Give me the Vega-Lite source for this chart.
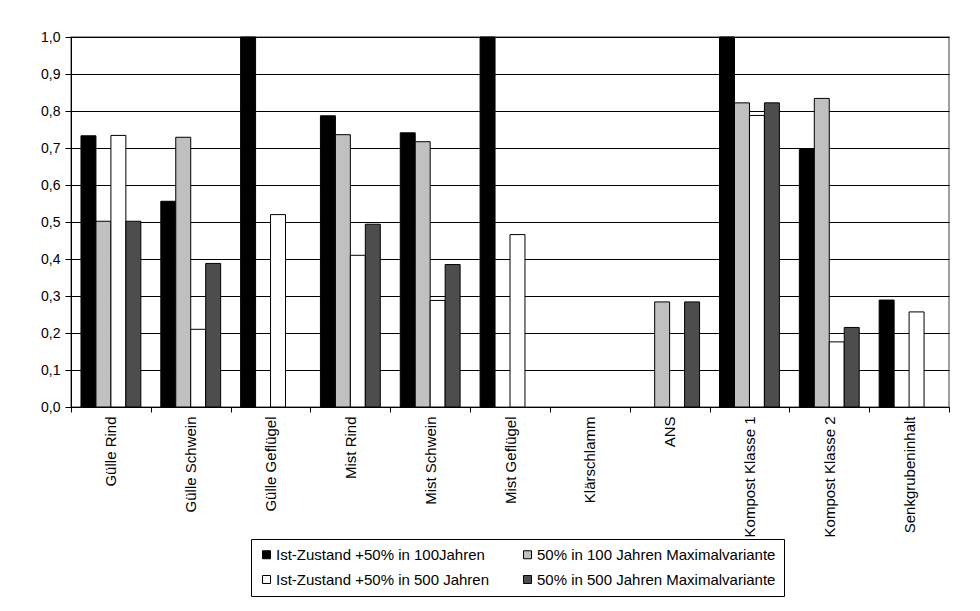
{
  "$schema": "https://vega.github.io/schema/vega-lite/v6.json",
  "width": 878,
  "height": 370,
  "autosize": {"type": "none"},
  "padding": {"left": 71, "top": 37, "right": 31, "bottom": 204},
  "background": "white",
  "data": {
    "values": [
      {"kategorie": "Gülle Rind", "serie": "Ist-Zustand +50% in 100Jahren", "wert": 0.733},
      {"kategorie": "Gülle Rind", "serie": "50% in 100 Jahren Maximalvariante", "wert": 0.502},
      {"kategorie": "Gülle Rind", "serie": "Ist-Zustand +50% in 500 Jahren", "wert": 0.734},
      {"kategorie": "Gülle Rind", "serie": "50% in 500 Jahren Maximalvariante", "wert": 0.502},
      {"kategorie": "Gülle Schwein", "serie": "Ist-Zustand +50% in 100Jahren", "wert": 0.556},
      {"kategorie": "Gülle Schwein", "serie": "50% in 100 Jahren Maximalvariante", "wert": 0.729},
      {"kategorie": "Gülle Schwein", "serie": "Ist-Zustand +50% in 500 Jahren", "wert": 0.21},
      {"kategorie": "Gülle Schwein", "serie": "50% in 500 Jahren Maximalvariante", "wert": 0.388},
      {"kategorie": "Gülle Geflügel", "serie": "Ist-Zustand +50% in 100Jahren", "wert": 1.0},
      {"kategorie": "Gülle Geflügel", "serie": "Ist-Zustand +50% in 500 Jahren", "wert": 0.52},
      {"kategorie": "Mist Rind", "serie": "Ist-Zustand +50% in 100Jahren", "wert": 0.787},
      {"kategorie": "Mist Rind", "serie": "50% in 100 Jahren Maximalvariante", "wert": 0.736},
      {"kategorie": "Mist Rind", "serie": "Ist-Zustand +50% in 500 Jahren", "wert": 0.41},
      {"kategorie": "Mist Rind", "serie": "50% in 500 Jahren Maximalvariante", "wert": 0.494},
      {"kategorie": "Mist Schwein", "serie": "Ist-Zustand +50% in 100Jahren", "wert": 0.741},
      {"kategorie": "Mist Schwein", "serie": "50% in 100 Jahren Maximalvariante", "wert": 0.717},
      {"kategorie": "Mist Schwein", "serie": "Ist-Zustand +50% in 500 Jahren", "wert": 0.288},
      {"kategorie": "Mist Schwein", "serie": "50% in 500 Jahren Maximalvariante", "wert": 0.385},
      {"kategorie": "Mist Geflügel", "serie": "Ist-Zustand +50% in 100Jahren", "wert": 1.0},
      {"kategorie": "Mist Geflügel", "serie": "Ist-Zustand +50% in 500 Jahren", "wert": 0.466},
      {"kategorie": "ANS", "serie": "50% in 100 Jahren Maximalvariante", "wert": 0.284},
      {"kategorie": "ANS", "serie": "50% in 500 Jahren Maximalvariante", "wert": 0.284},
      {"kategorie": "Kompost Klasse 1", "serie": "Ist-Zustand +50% in 100Jahren", "wert": 1.0},
      {"kategorie": "Kompost Klasse 1", "serie": "50% in 100 Jahren Maximalvariante", "wert": 0.822},
      {"kategorie": "Kompost Klasse 1", "serie": "Ist-Zustand +50% in 500 Jahren", "wert": 0.788},
      {"kategorie": "Kompost Klasse 1", "serie": "50% in 500 Jahren Maximalvariante", "wert": 0.822},
      {"kategorie": "Kompost Klasse 2", "serie": "Ist-Zustand +50% in 100Jahren", "wert": 0.696},
      {"kategorie": "Kompost Klasse 2", "serie": "50% in 100 Jahren Maximalvariante", "wert": 0.834},
      {"kategorie": "Kompost Klasse 2", "serie": "Ist-Zustand +50% in 500 Jahren", "wert": 0.176},
      {"kategorie": "Kompost Klasse 2", "serie": "50% in 500 Jahren Maximalvariante", "wert": 0.215},
      {"kategorie": "Senkgrubeninhalt", "serie": "Ist-Zustand +50% in 100Jahren", "wert": 0.289},
      {"kategorie": "Senkgrubeninhalt", "serie": "Ist-Zustand +50% in 500 Jahren", "wert": 0.257}
    ]
  },
  "mark": {"type": "bar", "stroke": "black", "strokeWidth": 1},
  "encoding": {
    "x": {
      "field": "kategorie",
      "type": "nominal",
      "sort": null,
      "scale": {
        "domain": ["Gülle Rind", "Gülle Schwein", "Gülle Geflügel", "Mist Rind", "Mist Schwein", "Mist Geflügel", "Klärschlamm", "ANS", "Kompost Klasse 1", "Kompost Klasse 2", "Senkgrubeninhalt"],
        "paddingInner": 0,
        "paddingOuter": 0
      },
      "axis": {
        "title": null,
        "labelAngle": -90,
        "labelFontSize": 15,
        "labelPadding": 4,
        "labelColor": "black",
        "tickBand": "extent",
        "tickSize": 5,
        "tickColor": "black",
        "domainColor": "black",
        "labelLimit": 0
      }
    },
    "xOffset": {
      "field": "serie",
      "type": "nominal",
      "scale": {
        "domain": ["Ist-Zustand +50% in 100Jahren", "50% in 100 Jahren Maximalvariante", "Ist-Zustand +50% in 500 Jahren", "50% in 500 Jahren Maximalvariante"],
        "paddingInner": 0,
        "paddingOuter": 0.667
      }
    },
    "y": {
      "field": "wert",
      "type": "quantitative",
      "scale": {"domain": [0, 1], "nice": false},
      "axis": {
        "title": null,
        "values": [0, 0.1, 0.2, 0.3, 0.4, 0.5, 0.6, 0.7, 0.8, 0.9, 1.0],
        "labelExpr": "replace(format(datum.value, '.1f'), '.', ',')",
        "labelFontSize": 14,
        "labelColor": "black",
        "labelPadding": 5,
        "tickSize": 6,
        "tickColor": "black",
        "domainColor": "black",
        "grid": true,
        "gridColor": "black",
        "gridOpacity": 1
      }
    },
    "fill": {
      "field": "serie",
      "type": "nominal",
      "scale": {
        "domain": ["Ist-Zustand +50% in 100Jahren", "50% in 100 Jahren Maximalvariante", "Ist-Zustand +50% in 500 Jahren", "50% in 500 Jahren Maximalvariante"],
        "range": ["#000000", "#c0c0c0", "#ffffff", "#4d4d4d"]
      },
      "legend": {
        "title": null,
        "orient": "none",
        "legendX": 180,
        "legendY": 502,
        "columns": 2,
        "direction": "horizontal",
        "strokeColor": "black",
        "padding": 8,
        "columnPadding": 30,
        "rowPadding": 9,
        "symbolType": "square",
        "symbolSize": 64,
        "symbolStrokeColor": "black",
        "symbolStrokeWidth": 1,
        "labelFontSize": 15,
        "labelColor": "black",
        "labelOffset": 2,
        "labelLimit": 0
      }
    }
  },
  "config": {
    "font": "Liberation Sans",
    "view": {"stroke": "#808080", "strokeWidth": 1.5}
  }
}
